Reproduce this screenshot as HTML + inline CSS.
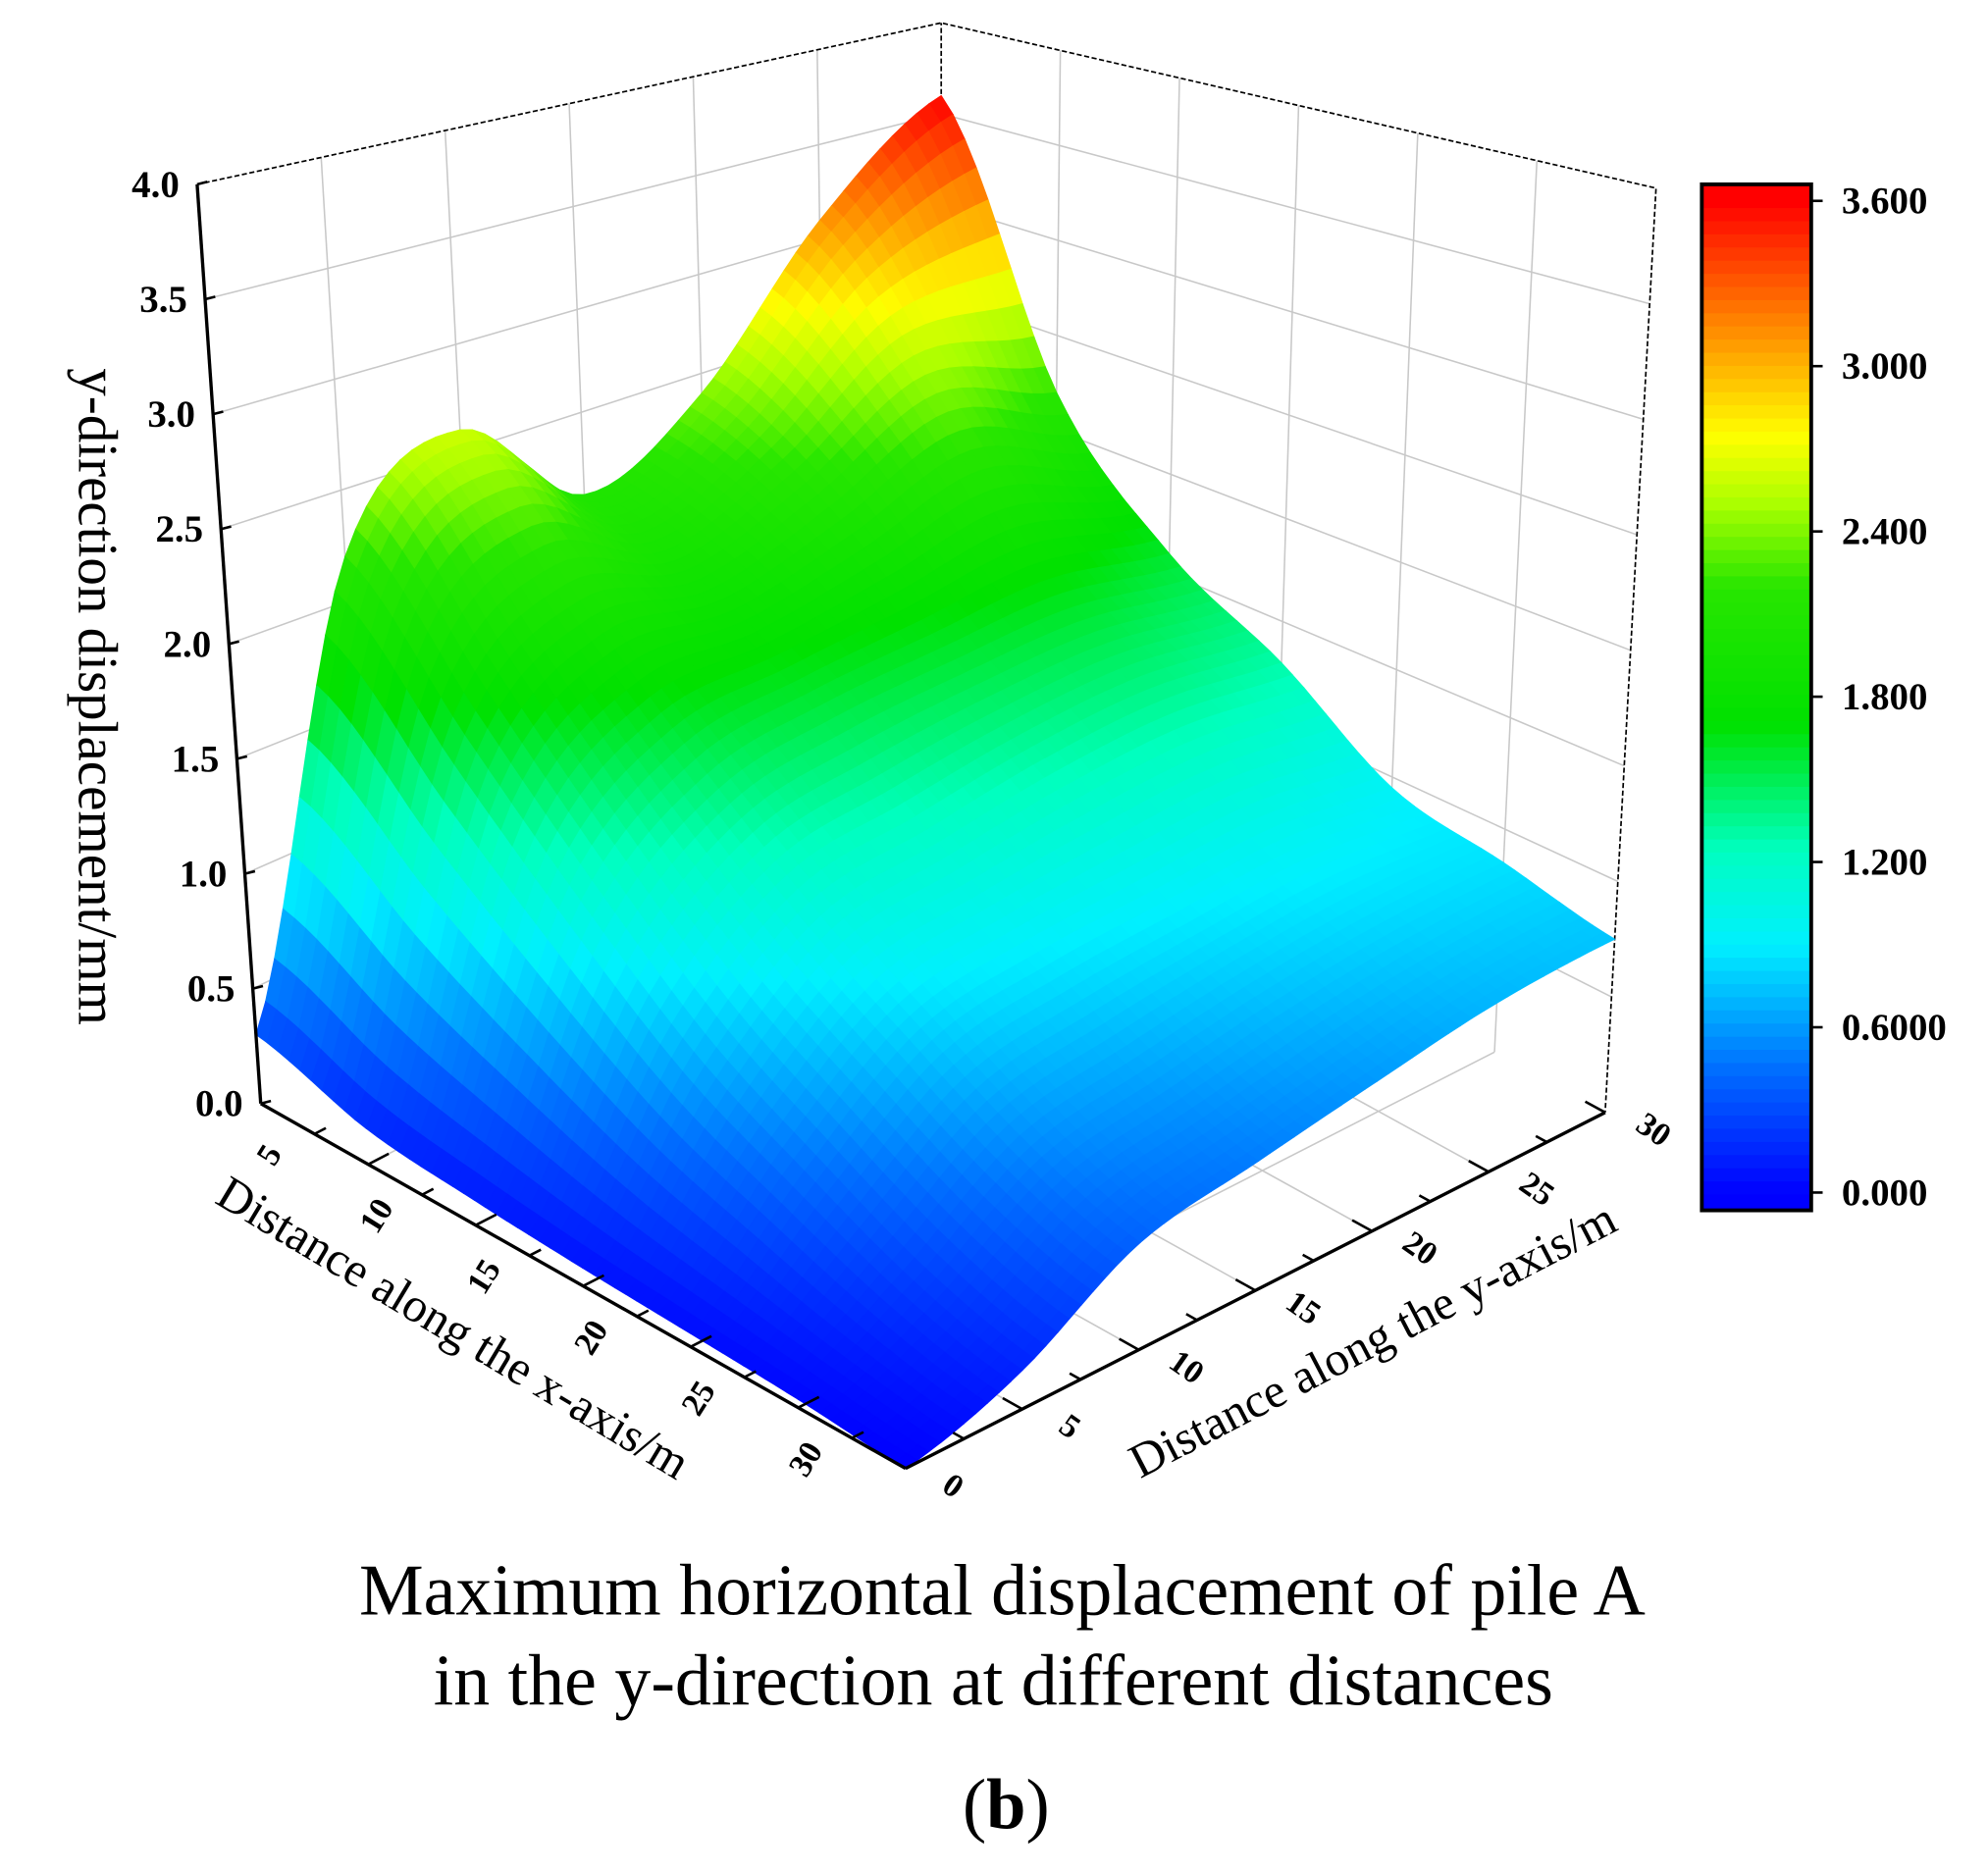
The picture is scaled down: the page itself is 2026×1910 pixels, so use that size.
<!DOCTYPE html>
<html><head><meta charset="utf-8">
<style>
html,body{margin:0;padding:0;background:#fff;}
svg{display:block;}
text{font-family:"Liberation Serif",serif;fill:#000;}
</style></head>
<body>
<svg id="chart" width="2026" height="1910" viewBox="0 0 1563 1474" preserveAspectRatio="none" xmlns="http://www.w3.org/2000/svg">
<g id="walls"></g>
<g id="surface"></g>
<g id="axes"></g>
<g id="cbar"></g>
<text x="0" y="0" font-size="44" text-anchor="middle" transform="translate(62,548) rotate(90)">y-direction displacement/mm</text>
<text x="0" y="0" font-size="38" text-anchor="middle" transform="translate(350,1055) rotate(31)">Distance along the x-axis/m</text>
<text x="0" y="0" font-size="38" text-anchor="middle" transform="translate(1085,1065) rotate(-27.5)">Distance along the y-axis/m</text>
<text x="788" y="1270" font-size="57" text-anchor="middle">Maximum horizontal displacement of pile A</text>
<text x="781" y="1341" font-size="57" text-anchor="middle">in the y-direction at different distances</text>
<text x="791" y="1438" font-size="56" text-anchor="middle">(<tspan font-weight="bold">b</tspan>)</text>
</svg>
<script>
const xVals = [0,5,10,15,20,25,30];
const yVals = [0,5,10,15,20,25,30];
const zRow0 = [0.3,2.2,2.6,2.1,2.4,3.1,3.6];
const zRow5 = [0.15,1.6,2.0,1.9,2.1,2.4,2.2];
const zRow10 = [0.1,1.1,1.5,1.6,1.65,1.7,1.6];
const zRow15 = [0.07,0.7,1.1,1.2,1.3,1.35,1.3];
const zRow20 = [0.05,0.45,0.8,0.9,0.95,1.0,0.95];
const zRow25 = [0.03,0.25,0.55,0.65,0.75,0.82,0.85];
const zRow30 = [0,0.14,0.4,0.5,0.6,0.7,0.75];
const zGrid = [zRow0,zRow5,zRow10,zRow15,zRow20,zRow25,zRow30];
const zTicks = ["0.0","0.5","1.0","1.5","2.0","2.5","3.0","3.5","4.0"];
const xTicks = ["5","10","15","20","25","30"];
const yTicks = ["0","5","10","15","20","25","30"];
const cbTicks = ["0.000","0.6000","1.200","1.800","2.400","3.000","3.600"];

const NS="http://www.w3.org/2000/svg";
function mk(tag,attrs,parent){const e=document.createElementNS(NS,tag);for(const k in attrs)e.setAttribute(k,attrs[k]);parent.appendChild(e);return e;}
const FL={L:[205,868],F:[712,1155],R:[1262,875],B:[740,590]};
const TP={L:[155,145],F:[708,255],R:[1302,148],B:[740,18]};
function bil(C,u,v){
  const a=C.L,b=C.F,c=C.R,d=C.B;
  return [(1-u)*(1-v)*a[0]+u*(1-v)*b[0]+u*v*c[0]+(1-u)*v*d[0],
          (1-u)*(1-v)*a[1]+u*(1-v)*b[1]+u*v*c[1]+(1-u)*v*d[1]];
}
function proj(x,y,z){const u=x/30,v=y/30,t=z/4;const f=bil(FL,u,v),p=bil(TP,u,v);return [f[0]+(p[0]-f[0])*t,f[1]+(p[1]-f[1])*t];}
function pt(p){return p[0].toFixed(1)+","+p[1].toFixed(1);}
const stops=[[0,[0,0,255]],[0.45,[0,110,255]],[0.9,[0,240,255]],[1.25,[0,255,190]],[1.7,[0,225,0]],[2.2,[40,230,0]],[2.5,[170,255,0]],[2.75,[255,255,0]],[3.1,[255,150,0]],[3.6,[255,0,0]]];
function jet(z){
  if(z<=stops[0][0])return "rgb(0,0,255)";
  for(let i=1;i<stops.length;i++){if(z<=stops[i][0]){const a=stops[i-1],b=stops[i];const t=(z-a[0])/(b[0]-a[0]);
    return "rgb("+a[1].map((c,k)=>Math.round(c+(b[1][k]-c)*t)).join(",")+")";}}
  return "rgb(255,0,0)";
}
function cr(p0,p1,p2,p3,t){return 0.5*((2*p1)+(-p0+p2)*t+(2*p0-5*p1+4*p2-p3)*t*t+(-p0+3*p1-3*p2+p3)*t*t*t);}
function g(i,j){i=Math.max(0,Math.min(6,i));j=Math.max(0,Math.min(6,j));return zGrid[i][j];}
function zAt(x,y){
  const fi=Math.min(x/5,5.9999),fj=Math.min(y/5,5.9999);const i=Math.floor(fi),j=Math.floor(fj);const s=fi-i,t=fj-j;
  const col=[];for(let di=-1;di<=2;di++){col.push(cr(g(i+di,j-1),g(i+di,j),g(i+di,j+1),g(i+di,j+2),t));}
  return Math.max(0,cr(col[0],col[1],col[2],col[3],s));
}
const walls=document.getElementById('walls');
const gray={stroke:"#c8c8c8","stroke-width":1.2,fill:"none"};
for(const y of yVals){ if(y===0||y===30)continue;
  let l=mk('line',Object.assign({x1:proj(0,y,0)[0],y1:proj(0,y,0)[1],x2:proj(0,y,4)[0],y2:proj(0,y,4)[1]},gray),walls);
  
  let f=mk('line',Object.assign({x1:proj(0,y,0)[0],y1:proj(0,y,0)[1],x2:proj(30,y,0)[0],y2:proj(30,y,0)[1]},gray),walls);
  
}
for(const x of xVals){ if(x===0||x===30)continue;
  let l=mk('line',Object.assign({x1:proj(x,30,0)[0],y1:proj(x,30,0)[1],x2:proj(x,30,4)[0],y2:proj(x,30,4)[1]},gray),walls);
  
  let f=mk('line',Object.assign({x1:proj(x,0,0)[0],y1:proj(x,0,0)[1],x2:proj(x,30,0)[0],y2:proj(x,30,0)[1]},gray),walls);
  
}
for(let k=1;k<8;k++){const z=k*0.5;
  let p=mk('polyline',Object.assign({points:pt(proj(0,0,z))+" "+pt(proj(0,30,z))+" "+pt(proj(30,30,z))},gray),walls);
  
}
const edge={stroke:"#000","stroke-width":1.3,fill:"none","stroke-dasharray":"4,2"};
let e1=mk('polyline',Object.assign({points:pt(proj(0,0,4))+" "+pt(proj(0,30,4))+" "+pt(proj(30,30,4))+" "+pt(proj(30,30,0))},edge),walls);

let e2=mk('line',Object.assign({x1:proj(0,30,0)[0],y1:proj(0,30,0)[1],x2:proj(0,30,4)[0],y2:proj(0,30,4)[1]},edge),walls);

const surf=document.getElementById('surface');
const N=60,step=30/N;const quads=[];
for(let i=0;i<N;i++)for(let j=0;j<N;j++){const x0=i*step,y0=j*step,x1=x0+step,y1=y0+step;quads.push([x0,y0,x1,y1,(x0+x1)/2-(y0+y1)/2]);}
quads.sort((a,b)=>a[4]-b[4]);
for(const q of quads){const [x0,y0,x1,y1]=q;
  const zc=zAt((x0+x1)/2,(y0+y1)/2);const c=jet(zc);
  const pts=[proj(x0,y0,zAt(x0,y0)),proj(x1,y0,zAt(x1,y0)),proj(x1,y1,zAt(x1,y1)),proj(x0,y1,zAt(x0,y1))].map(pt).join(" ");
  const p=mk('polygon',{points:pts,fill:c,stroke:c,"stroke-width":0.8},surf);
  
  
}
const axes=document.getElementById('axes');
const solid={stroke:"#000","stroke-width":2.6,fill:"none"};
let az=mk('line',Object.assign({x1:proj(0,0,0)[0],y1:proj(0,0,0)[1],x2:proj(0,0,4)[0],y2:proj(0,0,4)[1]},solid),axes);

let ax=mk('line',Object.assign({x1:proj(0,0,0)[0],y1:proj(0,0,0)[1],x2:proj(30,0,0)[0],y2:proj(30,0,0)[1]},solid),axes);

let ay=mk('line',Object.assign({x1:proj(30,0,0)[0],y1:proj(30,0,0)[1],x2:proj(30,30,0)[0],y2:proj(30,30,0)[1]},solid),axes);

zTicks.forEach((s,k)=>{const z=parseFloat(s);const p=proj(0,0,z);
  const t=mk('text',{x:p[0]-14,y:p[1]+10,"font-size":30,"font-weight":"bold","text-anchor":"end"},axes);t.textContent=s;
  
  const l=mk('line',{x1:p[0],y1:p[1],x2:p[0]+8,y2:p[1]-2,stroke:"#000","stroke-width":2},axes);
  
});
for(let v=2.5;v<=30;v+=2.5){const major=(v%5===0);const h=major?0.9:0.5;
  const a=proj(v,0,0),b=proj(v,h,0),c=proj(30,v,0),d=proj(30-h,v,0);
  const l1=mk('line',{x1:a[0],y1:a[1],x2:b[0],y2:b[1],stroke:"#000","stroke-width":2},axes);
  
  const l2=mk('line',{x1:c[0],y1:c[1],x2:d[0],y2:d[1],stroke:"#000","stroke-width":2},axes);
  
}
xTicks.forEach(s=>{const p=proj(parseFloat(s)-2.6,-1.5,0);
  const t=mk('text',{x:0,y:0,"font-size":26,"font-weight":"bold","text-anchor":"middle",transform:"translate("+p[0]+","+(p[1]+8)+") rotate(-58)"},axes);t.textContent=s;
  
});
yTicks.forEach(s=>{const p=proj(31.6,parseFloat(s)+0.3,0);
  const t=mk('text',{x:0,y:0,"font-size":26,"font-weight":"bold","text-anchor":"middle",transform:"translate("+p[0]+","+(p[1]+8)+") rotate(35)"},axes);t.textContent=s;
  
});
const cb=document.getElementById('cbar');
const cbTop=145,cbBot=952,cbX=1338,cbW=86;
const v0y=938,v36y=158;
function cby(v){return v0y+(v36y-v0y)*v/3.6;}
const nb=80;
for(let k=0;k<nb;k++){const va=-0.1+k*(3.82/nb),vb=va+3.82/nb;
  const ya=Math.min(cbBot,cby(va)),yb=Math.max(cbTop,cby(vb));
  const r=mk('rect',{x:cbX,y:yb,width:cbW,height:Math.max(0,ya-yb)+0.6,fill:jet((va+vb)/2)},cb);
  
}
const fr=mk('rect',{x:cbX,y:cbTop,width:cbW,height:cbBot-cbTop,fill:"none",stroke:"#000","stroke-width":3},cb);

cbTicks.forEach(s=>{const y=cby(parseFloat(s));
  const l=mk('line',{x1:cbX+cbW,y1:y,x2:cbX+cbW+9,y2:y,stroke:"#000","stroke-width":2},cb);
  
  const t=mk('text',{x:1448,y:y+10,"font-size":30,"font-weight":"bold"},cb);t.textContent=s;
  
});
</script>
</body></html>
